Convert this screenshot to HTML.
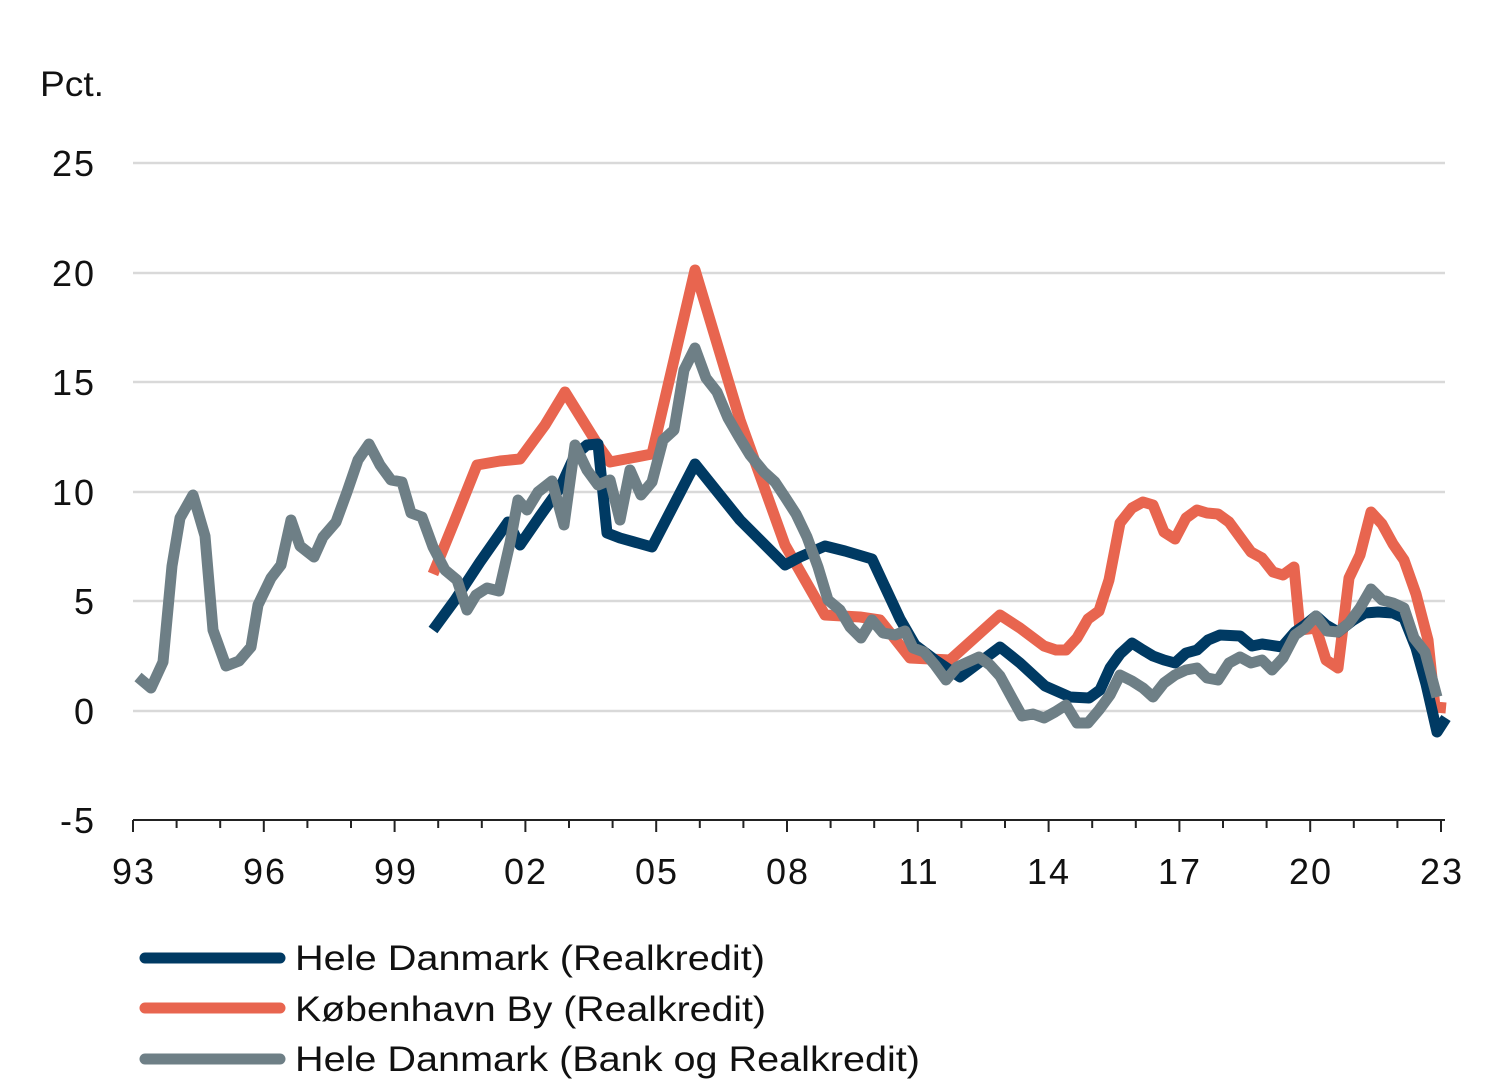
<!DOCTYPE html>
<html><head><meta charset="utf-8"><style>
html,body{margin:0;padding:0;background:#fff;}
svg{display:block;font-family:"Liberation Sans",sans-serif;}
</style></head><body>
<svg width="1512" height="1087" viewBox="0 0 1512 1087">
<text x="40" y="96" font-size="35" fill="#111" textLength="64" lengthAdjust="spacingAndGlyphs">Pct.</text>
<g stroke="#d9d9d9" stroke-width="2.5">
<line x1="133" x2="1445" y1="163" y2="163"/>
<line x1="133" x2="1445" y1="273" y2="273"/>
<line x1="133" x2="1445" y1="382" y2="382"/>
<line x1="133" x2="1445" y1="492" y2="492"/>
<line x1="133" x2="1445" y1="601" y2="601"/>
<line x1="133" x2="1445" y1="711" y2="711"/>
</g>
<line x1="133" x2="1445" y1="820" y2="820" stroke="#222" stroke-width="2"/>
<path stroke="#222" stroke-width="2" d="M133,820v12M176.6,820v8M220.2,820v8M263.8,820v12M307.4,820v8M351,820v8M394.6,820v12M438.2,820v8M481.8,820v8M525.4,820v12M569,820v8M612.6,820v8M656.2,820v12M699.8,820v8M743.4,820v8M787,820v12M830.6,820v8M874.2,820v8M917.8,820v12M961.4,820v8M1005,820v8M1048.6,820v12M1092.2,820v8M1135.8,820v8M1179.4,820v12M1223,820v8M1266.6,820v8M1310.2,820v12M1353.8,820v8M1397.4,820v8M1441,820v12"/>
<g font-size="36" fill="#111" text-anchor="end" letter-spacing="2">
<text x="96" y="176">25</text><text x="96" y="286">20</text><text x="96" y="395">15</text>
<text x="96" y="505">10</text><text x="96" y="614">5</text><text x="96" y="724">0</text><text x="96" y="833">-5</text>
</g>
<g font-size="36" fill="#111" text-anchor="middle" letter-spacing="2">
<text x="134" y="884">93</text><text x="265" y="884">96</text><text x="396" y="884">99</text>
<text x="526" y="884">02</text><text x="657" y="884">05</text><text x="788" y="884">08</text>
<text x="919" y="884">11</text><text x="1049" y="884">14</text><text x="1180" y="884">17</text>
<text x="1311" y="884">20</text><text x="1442" y="884">23</text>
</g>
<g fill="none" stroke-width="11" stroke-linejoin="round" stroke-linecap="butt">
<polyline stroke="#e8654f" points="433,574 455,520 477,465 500,461 520,459 545,425 565,392 598,445 610,462 652,454 695,270 740,420 785,545 825,615 860,617 880,620 910,658 950,660 1000,615 1020,628 1044,646 1056,650 1066,650 1077,638 1088,619 1099,611 1109,580 1120,523 1132,508 1143,502 1153,505 1164,532 1175,539 1186,518 1197,510 1207,513 1218,514 1229,522 1240,537 1251,552 1262,558 1273,572 1283,575 1294,567 1300,630 1316,628 1326,660 1338,668 1349,578 1360,555 1371,512 1382,524 1393,544 1404,560 1416,594 1428,640 1435,707 1446,708"/>
<polyline stroke="#003a63" points="433,630 455,600 480,562 508,522 520,545 540,516 560,488 575,455 587,445 598,444 607,533 620,538 652,547 695,464 740,520 785,565 800,557 825,546 845,551 872,559 900,619 915,645 935,660 960,677 1000,647 1020,663 1045,686 1070,697 1089,698 1100,690 1110,668 1120,654 1132,643 1143,650 1153,656 1164,660 1175,663 1186,653 1197,650 1208,640 1220,635 1240,636 1252,646 1262,644 1282,647 1295,632 1305,625 1316,616 1326,625 1338,632 1352,621 1365,613 1378,612 1393,613 1404,618 1416,648 1426,684 1437,732 1446,718"/>
<polyline stroke="#6e7f86" points="138,677 151,688 163,662 172,566 180,518 193,495 205,536 213,630 226,666 239,661 251,647 258,605 271,578 281,565 291,520 300,546 314,557 323,537 336,522 347,492 358,460 369,444 380,465 391,480 402,482 411,513 422,517 433,547 445,570 457,580 467,610 476,595 487,588 499,591 510,543 518,500 527,510 538,492 552,481 564,525 575,445 587,470 598,485 610,480 620,520 630,470 641,495 652,482 663,440 674,430 684,370 695,348 706,378 717,392 728,418 739,437 750,455 764,472 775,482 785,497 796,514 807,537 818,567 828,600 840,610 850,627 861,638 872,620 883,633 895,635 905,631 913,648 924,652 935,665 946,680 957,667 968,662 979,657 990,665 1000,676 1012,698 1022,716 1033,714 1044,718 1055,712 1066,705 1077,723 1088,723 1099,710 1110,695 1120,675 1132,681 1143,688 1153,697 1164,683 1175,675 1186,670 1197,668 1207,678 1218,680 1229,663 1240,657 1251,663 1262,660 1272,670 1283,658 1295,635 1305,628 1316,616 1327,631 1338,632 1349,623 1360,608 1371,589 1382,600 1393,603 1404,608 1414,638 1425,652 1437,697"/>
</g>
<g stroke-width="11" stroke-linecap="round">
<line x1="145" x2="280" y1="958" y2="958" stroke="#003a63"/>
<line x1="145" x2="280" y1="1008" y2="1008" stroke="#e8654f"/>
<line x1="145" x2="280" y1="1059" y2="1059" stroke="#6e7f86"/>
</g>
<g font-size="35" fill="#111" lengthAdjust="spacingAndGlyphs">
<text x="295" y="970" textLength="470" lengthAdjust="spacingAndGlyphs">Hele Danmark (Realkredit)</text>
<text x="295" y="1021" textLength="471" lengthAdjust="spacingAndGlyphs">København By (Realkredit)</text>
<text x="295" y="1071" textLength="625" lengthAdjust="spacingAndGlyphs">Hele Danmark (Bank og Realkredit)</text>
</g>
</svg>
</body></html>
